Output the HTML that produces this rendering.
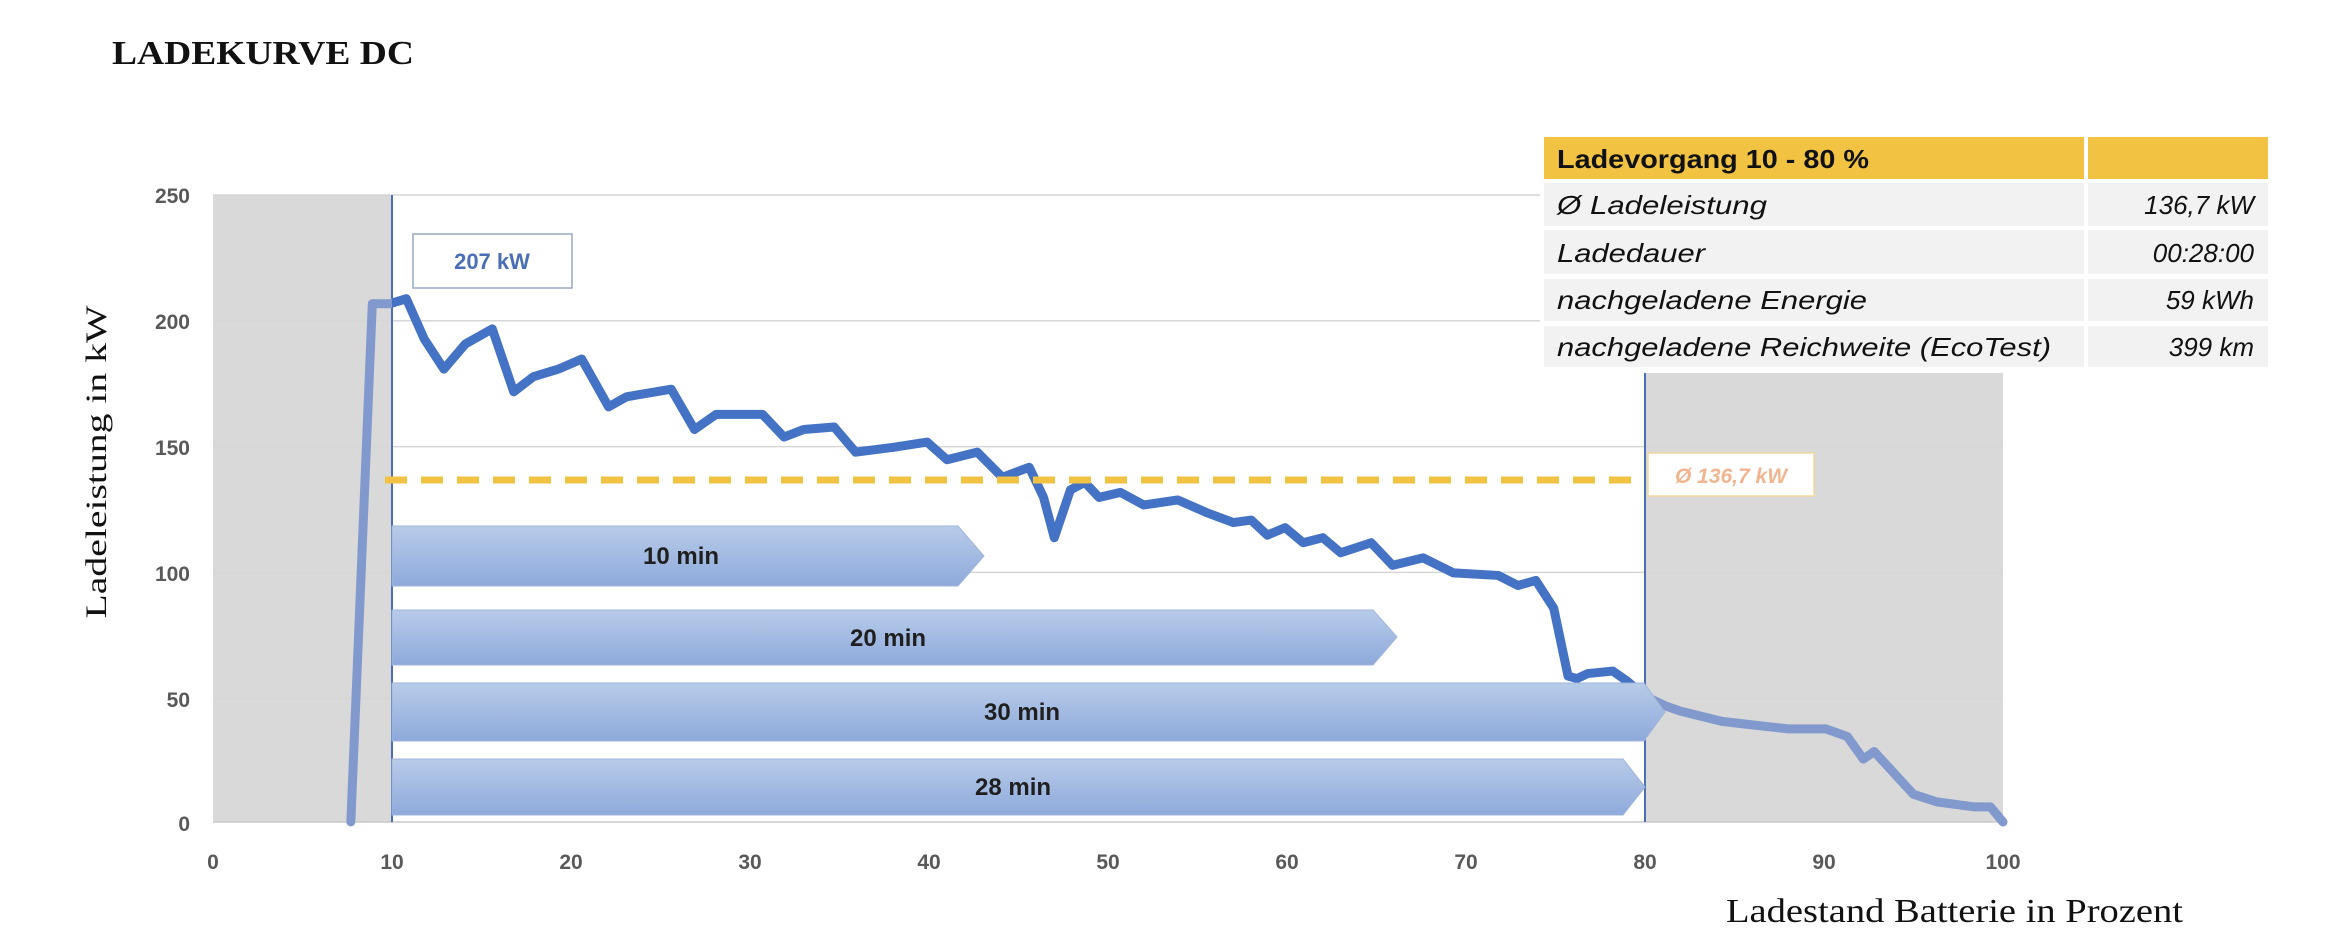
<!DOCTYPE html>
<html><head><meta charset="utf-8"><style>
html,body{margin:0;padding:0;background:#fff;}
body{width:2325px;height:933px;position:relative;overflow:hidden;font-family:"Liberation Sans",sans-serif;}
</style></head><body>
<svg width="2325" height="933" viewBox="0 0 2325 933" xmlns="http://www.w3.org/2000/svg">
<defs>
<linearGradient id="ag" x1="0" y1="0" x2="0" y2="1">
<stop offset="0" stop-color="#b8cbe9"/><stop offset="1" stop-color="#8eaadb"/>
</linearGradient>
<clipPath id="mid"><rect x="392" y="0" width="1253" height="933"/></clipPath>
<clipPath id="out"><rect x="0" y="0" width="392" height="933"/><rect x="1645" y="0" width="600" height="933"/></clipPath>
</defs>
<text x="112" y="64" font-family="Liberation Serif,serif" font-weight="bold" font-size="34" textLength="302" lengthAdjust="spacingAndGlyphs" fill="#111">LADEKURVE DC</text>
<rect x="213" y="195" width="179" height="627" fill="#d9d9d9"/>
<rect x="1645" y="195" width="358" height="627" fill="#d9d9d9"/>
<g stroke="#d6d6d6" stroke-width="1.5">
<line x1="213" y1="195" x2="2003" y2="195"/><line x1="213" y1="320.8" x2="2003" y2="320.8"/>
<line x1="213" y1="446.6" x2="2003" y2="446.6"/><line x1="213" y1="572.4" x2="2003" y2="572.4"/>
<line x1="213" y1="698.2" x2="2003" y2="698.2"/><line x1="213" y1="822" x2="2003" y2="822" stroke="#c8c8c8"/>
</g>
<g fill="#595959" font-weight="bold" font-size="21" text-anchor="end">
<text x="190" y="203">250</text><text x="190" y="329">200</text><text x="190" y="455">150</text>
<text x="190" y="581">100</text><text x="190" y="707">50</text><text x="190" y="831">0</text>
</g>
<g fill="#595959" font-weight="bold" font-size="21" text-anchor="middle">
<text x="213" y="869">0</text><text x="392" y="869">10</text><text x="571" y="869">20</text><text x="750" y="869">30</text>
<text x="929" y="869">40</text><text x="1108" y="869">50</text><text x="1287" y="869">60</text><text x="1466" y="869">70</text>
<text x="1645" y="869">80</text><text x="1824" y="869">90</text><text x="2003" y="869">100</text>
</g>
<line x1="392" y1="195" x2="392" y2="822" stroke="#4a6fb5" stroke-width="2"/>
<line x1="1645" y1="195" x2="1645" y2="822" stroke="#4a6fb5" stroke-width="2"/>
<g clip-path="url(#mid)">
<g transform="translate(213,822) scale(17.9,-2.516)" fill="none" stroke-linejoin="round" stroke-linecap="round">
<polyline vector-effect="non-scaling-stroke" stroke-width="9" stroke="#4472c4" points="7.7,0 8.9,206 9.9,206 10.8,208 11.8,192 12.9,180 14.1,190 15.6,196 16.8,171 17.9,177 19.3,180 20.6,184 22.1,165 23.1,169 25.6,172 26.9,156 28.1,162 30.7,162 31.9,153 33,156 34.7,157 35.9,147 38.1,149 39.9,151 41,144 42.7,147 44.1,137 45.6,141 46.4,129 47,113 47.9,132 48.7,135 49.5,129 50.7,131 52,126 53.9,128 55.5,123 57,119 58,120 58.9,114 59.9,117 60.9,111 62,113 63,107 64.7,111 65.9,102 67.6,105 69.3,99 71.8,98 72.9,94 73.9,96 74.9,85 75.7,58 76.2,57 76.8,59 78.2,60 79,56 80,50 81.2,46 82,44 84.3,40 85.5,39 88,37 90.1,37 91.3,34 92.2,25 92.8,28 95,11 96.3,8 98.4,6 99.3,6 100,0"/>
</g></g>
<g clip-path="url(#out)">
<g transform="translate(213,822) scale(17.9,-2.516)" fill="none" stroke-linejoin="round" stroke-linecap="round">
<polyline vector-effect="non-scaling-stroke" stroke-width="9" stroke="#8199cc" points="7.7,0 8.9,206 9.9,206 10.8,208 11.8,192 12.9,180 14.1,190 15.6,196 16.8,171 17.9,177 19.3,180 20.6,184 22.1,165 23.1,169 25.6,172 26.9,156 28.1,162 30.7,162 31.9,153 33,156 34.7,157 35.9,147 38.1,149 39.9,151 41,144 42.7,147 44.1,137 45.6,141 46.4,129 47,113 47.9,132 48.7,135 49.5,129 50.7,131 52,126 53.9,128 55.5,123 57,119 58,120 58.9,114 59.9,117 60.9,111 62,113 63,107 64.7,111 65.9,102 67.6,105 69.3,99 71.8,98 72.9,94 73.9,96 74.9,85 75.7,58 76.2,57 76.8,59 78.2,60 79,56 80,50 81.2,46 82,44 84.3,40 85.5,39 88,37 90.1,37 91.3,34 92.2,25 92.8,28 95,11 96.3,8 98.4,6 99.3,6 100,0"/>
</g></g>
<g fill="url(#ag)" stroke="#9fb4d8" stroke-width="1">
<polygon points="392,526 958,526 984,556 958,586 392,586"/>
<polygon points="392,610 1373,610 1397,637 1373,665 392,665"/>
<polygon points="392,683 1644,683 1665,712 1644,741 392,741"/>
<polygon points="392,759 1623,759 1645,787 1623,815 392,815"/>
</g>
<g fill="#1f1f1f" font-weight="bold" font-size="24" text-anchor="middle">
<text x="681" y="564">10 min</text><text x="888" y="646">20 min</text>
<text x="1022" y="720">30 min</text><text x="1013" y="795">28 min</text>
</g>
<line x1="385" y1="480" x2="1645" y2="480" stroke="#f2c342" stroke-width="7" stroke-dasharray="22,14"/>
<rect x="413" y="234" width="159" height="54" fill="#fff" stroke="#9aa7c0" stroke-width="1.5"/>
<text x="492" y="269" text-anchor="middle" font-weight="bold" font-size="22" fill="#4a6fb5">207 kW</text>
<rect x="1648" y="453" width="166" height="43" fill="#fff" stroke="#f2d89a" stroke-width="1.5"/>
<text x="1731" y="483" text-anchor="middle" font-weight="bold" font-style="italic" font-size="21" fill="#f2b48e">Ø 136,7 kW</text>
<rect x="1540" y="133" width="735" height="240" fill="#fff"/>
<rect x="1544" y="137" width="540" height="42" fill="#f2c342"/>
<rect x="2088" y="137" width="180" height="42" fill="#f2c342"/>
<g fill="#f2f2f2">
<rect x="1544" y="183" width="540" height="43"/><rect x="2088" y="183" width="180" height="43"/>
<rect x="1544" y="230" width="540" height="44"/><rect x="2088" y="230" width="180" height="44"/>
<rect x="1544" y="279" width="540" height="42"/><rect x="2088" y="279" width="180" height="42"/>
<rect x="1544" y="326" width="540" height="41"/><rect x="2088" y="326" width="180" height="41"/>
</g>
<text x="1557" y="168" font-weight="bold" font-size="26" fill="#111" textLength="312" lengthAdjust="spacingAndGlyphs">Ladevorgang 10 - 80 %</text>
<g font-style="italic" font-size="26" fill="#111">
<text x="1557" y="214" textLength="210" lengthAdjust="spacingAndGlyphs">Ø Ladeleistung</text>
<text x="1557" y="262" textLength="148" lengthAdjust="spacingAndGlyphs">Ladedauer</text>
<text x="1557" y="309" textLength="310" lengthAdjust="spacingAndGlyphs">nachgeladene Energie</text>
<text x="1557" y="356" textLength="494" lengthAdjust="spacingAndGlyphs">nachgeladene Reichweite (EcoTest)</text>
</g>
<g font-style="italic" font-size="26" fill="#111" text-anchor="end">
<text x="2254" y="214">136,7 kW</text><text x="2254" y="262">00:28:00</text>
<text x="2254" y="309">59 kWh</text><text x="2254" y="356">399 km</text>
</g>
<text transform="translate(106,462) rotate(-90)" text-anchor="middle" font-family="Liberation Serif,serif" font-size="30" fill="#111" textLength="313" lengthAdjust="spacingAndGlyphs">Ladeleistung in kW</text>
<text x="1726" y="922" font-family="Liberation Serif,serif" font-size="34" fill="#111" textLength="457" lengthAdjust="spacingAndGlyphs">Ladestand Batterie in Prozent</text>
</svg>
</body></html>
